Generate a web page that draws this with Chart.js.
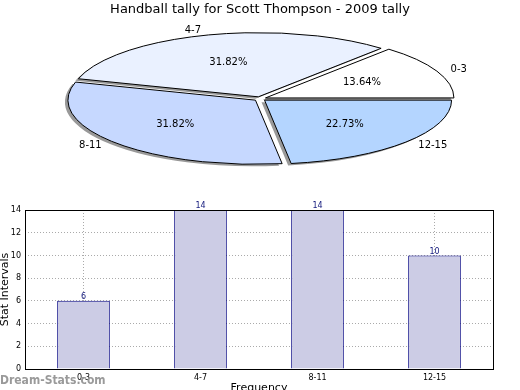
<!DOCTYPE html>
<html>
<head>
<meta charset="utf-8">
<script src="https://cdn.jsdelivr.net/npm/chart.js@4.4.0/dist/chart.umd.min.js"></script>
<style>
  html, body { margin: 0; padding: 0; background: #fff; }
  #wrap { position: relative; width: 520px; height: 390px; overflow: hidden; }
  #pie { position: absolute; left: 0; top: 0; }
  #bar { position: absolute; left: 0; top: 195px; }
  #mark { position: absolute; left: 0; top: 374px; line-height: 12px;
          font-family: "DejaVu Sans Condensed", "DejaVu Sans"; font-weight: bold;
          font-size: 12px; font-stretch: condensed; color: #9a9a9a; }
</style>
</head>
<body>
<div id="wrap">
  <canvas id="pie" width="520" height="180"></canvas>
  <canvas id="bar" width="520" height="195"></canvas>
  <div id="mark">Dream-Stats.com</div>
</div>
<script>
// data
const categories = ['0-3', '4-7', '8-11', '12-15'];
const counts = [6, 14, 14, 10];
const sliceColors = ['#ffffff', '#eaf1ff', '#c6d8ff', '#b4d5ff'];
const yTicks = [0, 2, 4, 6, 8, 10, 12, 14];

const total = counts.reduce((a, b) => a + b, 0);

// pie is drawn as a circle then squashed into an ellipse
const pieRadius = 187;
const squash = 64 / 187;
const explode = 24; // chart.js moves a slice by offset / 4

const squashCtx = (chart, ctx) => {
  const a = chart.chartArea;
  const cx = (a.left + a.right) / 2;
  const cy = (a.top + a.bottom) / 2;
  ctx.translate(cx, cy);
  ctx.scale(1, -squash);
  ctx.translate(-cx, -cy);
};

const ellipse = {
  id: 'ellipse',
  beforeDatasetsDraw(chart) {
    const ctx = chart.ctx;
    ctx.save();
    squashCtx(chart, ctx);
    ctx.shadowColor = 'rgba(0,0,0,0.4)';
    ctx.shadowOffsetX = -3;
    ctx.shadowOffsetY = 2;
  },
  afterDatasetsDraw(chart) {
    const ctx = chart.ctx;
    ctx.restore();
    const a = chart.chartArea;
    const cx = (a.left + a.right) / 2;
    const cy = (a.top + a.bottom) / 2;
    const meta = chart.getDatasetMeta(0);

    // outlines with a normal 1px pen
    meta.data.forEach((arc) => {
      const p = arc.getProps(['x', 'y', 'startAngle', 'endAngle', 'outerRadius', 'circumference']);
      const off = (arc.options.offset || 0) / 4;
      const mid = (p.startAngle + p.endAngle) / 2;
      const fix = 1 - Math.sin(Math.min(Math.PI, p.circumference));
      const r = p.outerRadius + off * fix;
      const ox = p.x + Math.cos(mid) * off;
      const oy = p.y + Math.sin(mid) * off;
      ctx.save();
      squashCtx(chart, ctx);
      ctx.beginPath();
      ctx.moveTo(ox, oy);
      ctx.arc(ox, oy, r, p.startAngle, p.endAngle);
      ctx.closePath();
      ctx.restore();
      ctx.lineWidth = 1;
      ctx.strokeStyle = '#000';
      ctx.stroke();
    });

    // labels
    ctx.save();
    ctx.fillStyle = '#000';
    ctx.font = '10px "DejaVu Sans"';
    ctx.textBaseline = 'middle';
    meta.data.forEach((arc, i) => {
      const p = arc.getProps(['startAngle', 'endAngle', 'outerRadius']);
      const mid = (p.startAngle + p.endAngle) / 2;
      const c = Math.cos(mid), s = Math.sin(mid);
      const R = p.outerRadius;
      ctx.textAlign = 'center';
      ctx.fillText((counts[i] / total * 100).toFixed(2) + '%',
        cx + 0.6 * R * c, cy - 0.6 * R * squash * s);
      ctx.textAlign = c > 0 ? 'left' : 'right';
      ctx.fillText(categories[i], cx + 1.12 * R * c, cy - 1.12 * R * squash * s);
    });
    ctx.restore();
  }
};

const pieChart = new Chart(document.getElementById('pie'), {
  type: 'pie',
  data: {
    labels: categories,
    datasets: [{
      data: counts,
      backgroundColor: sliceColors,
      borderWidth: 0,
      offset: explode,
      clip: false
    }]
  },
  options: {
    responsive: false,
    animation: false,
    radius: pieRadius,
    rotation: 90,
    plugins: {
      legend: { display: false },
      tooltip: { enabled: false },
      title: {
        display: true,
        text: 'Handball tally for Scott Thompson - 2009 tally',
        color: '#000',
        font: { family: 'DejaVu Sans', size: 13, weight: 'normal' },
        padding: { top: 2, bottom: 0 }
      }
    }
  },
  plugins: [ellipse]
});

// bar chart
const barExtras = {
  id: 'barExtras',
  afterDatasetsDraw(chart) {
    const ctx = chart.ctx;
    ctx.save();
    ctx.fillStyle = '#1a2080';
    ctx.font = '8px "DejaVu Sans"';
    ctx.textAlign = 'center';
    ctx.textBaseline = 'bottom';
    chart.getDatasetMeta(0).data.forEach((bar, i) => {
      ctx.fillText(counts[i], bar.x, bar.y);
    });
    ctx.restore();
  },
  afterDraw(chart) {
    const a = chart.chartArea;
    const ctx = chart.ctx;
    ctx.save();
    ctx.strokeStyle = '#000';
    ctx.lineWidth = 1;
    ctx.strokeRect(a.left + 0.5, a.top + 0.5, a.right - a.left, a.bottom - a.top);
    ctx.restore();
  }
};

const barChart = new Chart(document.getElementById('bar'), {
  type: 'bar',
  data: {
    labels: categories,
    datasets: [{
      data: counts,
      backgroundColor: '#ccccE5',
      borderColor: '#000080',
      borderWidth: 1,
      barPercentage: 0.45,
      categoryPercentage: 1
    }]
  },
  options: {
    responsive: false,
    animation: false,
    layout: { padding: { top: 15, right: 27, left: 0, bottom: 0 } },
    plugins: { legend: { display: false }, tooltip: { enabled: false } },
    scales: {
      x: {
        z: 1,
        afterFit(s) { s.height = 21; },
        grid: { offset: false, color: '#aaaaaa', drawTicks: false },
        border: { display: false, dash: [1, 2] },
        ticks: { color: '#000', padding: 4, font: { family: 'DejaVu Sans', size: 8 } },
        title: {
          display: true, text: 'Frequency', color: '#000',
          font: { family: 'DejaVu Sans', size: 11 },
          padding: { top: 0, bottom: -5 }
        }
      },
      y: {
        z: 1,
        min: yTicks[0],
        max: yTicks[yTicks.length - 1],
        afterFit(s) { s.width = 25; },
        afterBuildTicks(s) { s.ticks = yTicks.map(v => ({ value: v })); },
        grid: { color: '#aaaaaa', drawTicks: false },
        border: { display: false, dash: [1, 2] },
        ticks: { color: '#000', padding: 4, font: { family: 'DejaVu Sans', size: 8 } },
        title: {
          display: true, text: 'Stat Intervals', color: '#000',
          font: { family: 'DejaVu Sans', size: 11 },
          padding: { top: -1, bottom: 0 }
        }
      }
    }
  },
  plugins: [barExtras]
});
</script>
</body>
</html>
